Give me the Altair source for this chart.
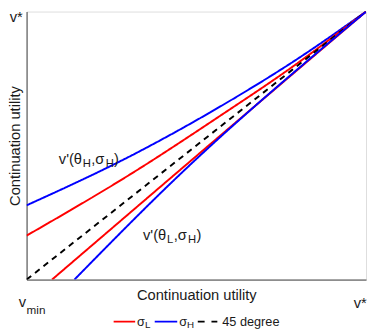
import altair as alt
import pandas as pd

# ---------------- data (unit square, v_min..v*) ----------------
bu_x = [0.0, 0.326, 0.556, 0.8, 1.0]      # v'(theta_H, sigma_H)  blue upper
bu_y = [0.277, 0.474, 0.635, 0.825, 1.0]
ru_x = [0.0, 0.326, 0.556, 0.8, 1.0]      # v'(theta_H, sigma_L)  red upper
ru_y = [0.164, 0.409, 0.599, 0.809, 1.0]
dg_x = [0.0, 1.0]                         # 45 degree
dg_y = [0.0, 1.0]
rl_x = [0.075, 0.418, 1.0]                # v'(theta_L, sigma_L)  red lower
rl_y = [0.0, 0.372, 1.0]
bl_x = [0.141, 0.435, 1.0]                # v'(theta_L, sigma_H)  blue lower
bl_y = [0.0, 0.372, 1.0]

groups = ["σL", "σH", "45 degree"]
colors = ["#ff0000", "#0000ff", "#000000"]
dashes = [[1, 0], [1, 0], [6, 5]]

label_hi = ["v'(θ", "H", ",σ", "H", ")"]
label_lo = ["v'(θ", "L", ",σ", "H", ")"]

FONT = "Liberation Sans"
TXT = "#1a1a1a"

rows = []
for name, grp, xs, ys in [("bu", "σH", bu_x, bu_y), ("ru", "σL", ru_x, ru_y),
                          ("dg", "45 degree", dg_x, dg_y), ("rl", "σL", rl_x, rl_y),
                          ("bl", "σH", bl_x, bl_y)]:
    for i, (a, b) in enumerate(zip(xs, ys)):
        rows.append({"x": a, "y": b, "grp": grp, "curve": name, "i": i})
df = pd.DataFrame(rows)

xscale = alt.Scale(domain=[0, 1], nice=False, zero=False)
yscale = alt.Scale(domain=[0, 1], nice=False, zero=False)

lines = alt.Chart(df).mark_line(strokeWidth=2, clip=True, interpolate="monotone").encode(
    x=alt.X("x:Q", scale=xscale,
            axis=alt.Axis(title="Continuation utility", ticks=False, labels=False, grid=False,
                          domainColor="#404040", titleFont=FONT, titleFontSize=15,
                          titleFontWeight="normal", titleColor=TXT, titlePadding=8)),
    y=alt.Y("y:Q", scale=yscale,
            axis=alt.Axis(title="Continuation utility", ticks=False, labels=False, grid=False,
                          domainColor="#404040", titleFont=FONT, titleFontSize=15,
                          titleFontWeight="normal", titleColor=TXT, titlePadding=4)),
    color=alt.Color("grp:N", scale=alt.Scale(domain=groups, range=colors), legend=None),
    strokeDash=alt.StrokeDash("grp:N", scale=alt.Scale(domain=groups, range=dashes), legend=None),
    detail="curve:N",
    order="i:Q",
)


def txt(x, y, s, dx, dy, size, align="left"):
    return alt.Chart(pd.DataFrame({"x": [x], "y": [y], "t": [s]})).mark_text(
        dx=dx, dy=dy, fontSize=size, font=FONT, align=align, baseline="alphabetic",
        color=TXT, clip=False).encode(x="x:Q", y="y:Q", text="t:N")


def pieces(x, y, parts):
    # alternating normal / subscript pieces
    widths = {"v'(θ": 24.5, "H": 8.6, "L": 6.8, ",σ": 14.8, ")": 5.0}
    out = []
    off = 0.0
    for k, p in enumerate(parts):
        sub = k % 2 == 1
        out.append(txt(x, y, p, off, 3 if sub else 0, 11.5 if sub else 15))
        off += widths.get(p, 8)
    return out


annots = []
annots += pieces(0.095, 0.432, label_hi)
annots += pieces(0.343, 0.146, label_lo)
annots.append(txt(0.0, 1.0, "v*", -4, 11, 15, align="right"))
annots.append(txt(0.0, 0.0, "v", -8, 28, 15))
annots.append(txt(0.0, 0.0, "min", 0, 35, 12))
annots.append(txt(1.0, 0.0, "v*", -6, 29, 15, align="center"))

# ---------------- hand-made legend below the plot ----------------
one = pd.DataFrame({"a": [0]})


def leg_rule(x1, x2, y, color, dash):
    return alt.Chart(one).mark_rule(color=color, strokeWidth=2, strokeDash=dash).encode(
        x=alt.value(x1), x2=alt.value(x2), y=alt.value(y))


def leg_text(x, y, s, size):
    return alt.Chart(one).mark_text(align="left", baseline="alphabetic", fontSize=size,
                                    font=FONT, color=TXT).encode(
        x=alt.value(x), y=alt.value(y), text=alt.value(s))


legend = [
    leg_rule(89, 111, 317, colors[0], dashes[0]),
    leg_text(113, 321, "σ", 13), leg_text(121, 324, "L", 10),
    leg_rule(131, 154, 317, colors[1], dashes[1]),
    leg_text(156, 321, "σ", 13), leg_text(164, 324, "H", 10),
    leg_rule(175, 195, 317, colors[2], [7, 7]),
    leg_text(200, 321, "45 degree", 13),
]

chart = alt.layer(lines, *annots, *legend).properties(
    width=347, height=274,
    padding={"left": 19, "top": 0, "right": 1, "bottom": 52},
    autosize="none",
).configure_view(stroke="#808080", strokeWidth=1).configure(background="white")

chart.save("out.html", embed_options={"renderer": "svg", "actions": False})
